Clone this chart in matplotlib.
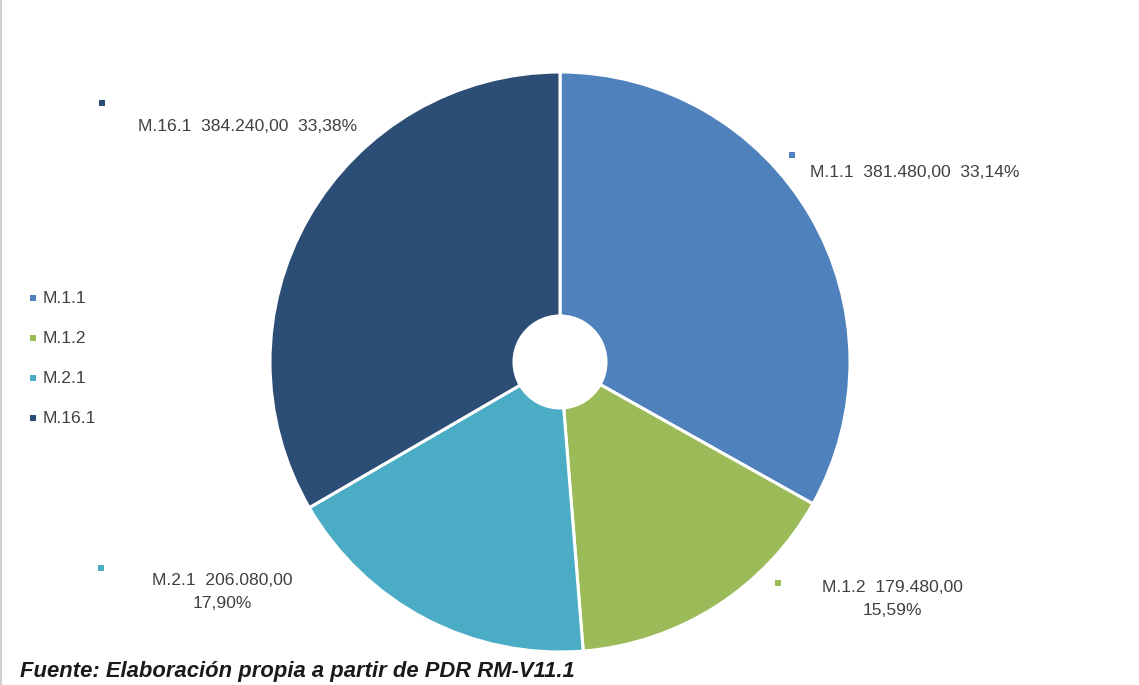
import matplotlib
matplotlib.use("Agg")
import matplotlib.pyplot as plt
from matplotlib import font_manager

categories = ["M.1.1", "M.1.2", "M.2.1", "M.16.1"]
values = [381480.00, 179480.00, 206080.00, 384240.00]
colors = ["#4F81BD", "#9BBB59", "#4BACC6", "#2C4D75"]
source_text = "Fuente: Elaboración propia a partir de PDR RM-V11.1"

names = {f.name for f in font_manager.fontManager.ttflist}
FONT = "Liberation Sans Narrow" if "Liberation Sans Narrow" in names else "Liberation Sans"
TXT = "#404040"

W, H = 1139, 685
fig = plt.figure(figsize=(W / 100, H / 100), dpi=100)
ax = fig.add_axes([0, 0, 1, 1])

cx, cy, R = 560, H - 362, 290
hole = 46
ax.pie(values, colors=colors, startangle=90, counterclock=False,
       center=(cx, cy), radius=R, frame=True,
       wedgeprops=dict(width=R - hole, edgecolor="white", linewidth=2.2))
ax.set_xlim(0, W)
ax.set_ylim(0, H)
ax.set_aspect("equal")
ax.axis("off")

total = sum(values)

def fmt_num(v):
    s = f"{v:,.2f}"
    return s.replace(",", "X").replace(".", ",").replace("X", ".")

def fmt_pct(v):
    return f"{100 * v / total:.2f}".replace(".", ",") + "%"

# label layout: (marker x, marker y, text x, text y, two-line)
layout = {
    "M.1.1": (792, 155, 915, 172, False),
    "M.1.2": (778, 583, 892, 599, True),
    "M.2.1": (101, 568, 222, 592, True),
    "M.16.1": (102, 103, 248, 126, False),
}
for cat, val, col in zip(categories, values, colors):
    mx, my, tx, ty, two = layout[cat]
    ax.scatter([mx], [H - my], marker="s", s=24, color=col, linewidths=0)
    if two:
        txt = f"{cat}  {fmt_num(val)}\n{fmt_pct(val)}"
    else:
        txt = f"{cat}  {fmt_num(val)}  {fmt_pct(val)}"
    ax.text(tx, H - ty, txt, ha="center", va="center", fontsize=12.6,
            family=FONT, color=TXT, linespacing=1.72)

# legend
for i, (cat, col) in enumerate(zip(categories, colors)):
    y = H - (298 + 40 * i)
    ax.scatter([33], [y], marker="s", s=24, color=col, linewidths=0)
    ax.text(43, y, cat, ha="left", va="center", fontsize=12.6, family=FONT, color=TXT)

# left border
ax.plot([1, 1], [0, H], color="#D0D0D0", linewidth=1.5)

fig.text(20 / W, 1 - 671 / H, source_text, ha="left", va="center",
         fontsize=15.8, family=FONT, weight="bold", style="italic", color="#1A1A1A")

fig.savefig("out.png", dpi=100, facecolor="white")
